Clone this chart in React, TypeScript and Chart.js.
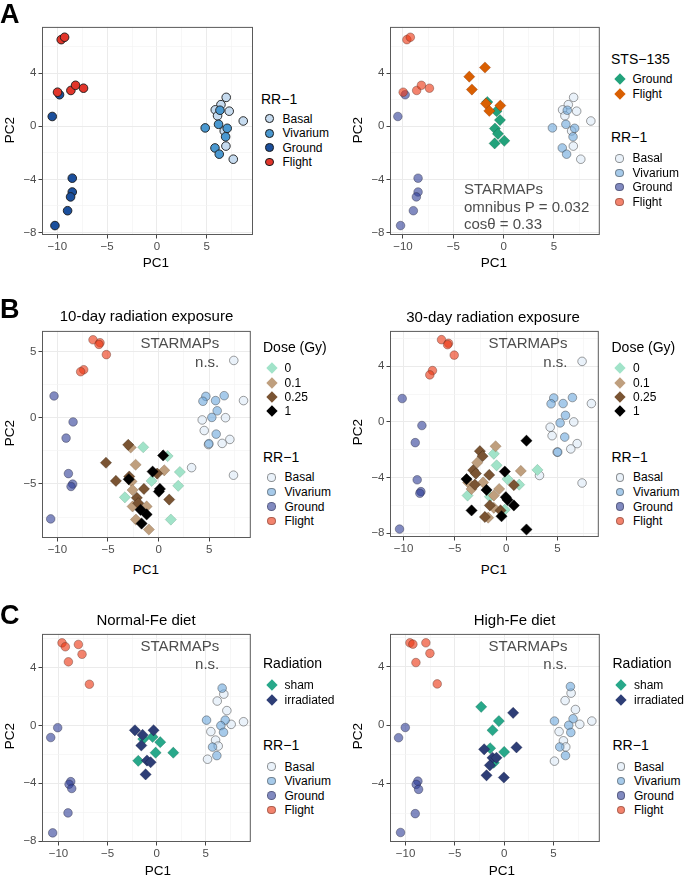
import React, { useEffect, useRef } from "react";
import { Chart, registerables } from "chart.js";
Chart.register(...registerables);

type Pt = [number, number];

// ---------------- Data ----------------
// Panel A (RR-1 PCA, shared by both A panels)
const aBasal: Pt[] = [[6.96, 2.18], [6.43, 1.63], [5.86, 1.24], [7.26, 1.14], [6.09, 0.79], [8.67, 0.4], [6.76, -0.35], [6.93, -1.49], [7.67, -2.48]];
const aVivarium: Pt[] = [[6.33, 1.21], [4.85, -0.12], [6.19, 0.15], [7.06, -0.15], [6.9, -0.79], [5.83, -1.63], [6.26, -2.1]];
const aGround: Pt[] = [[-9.78, 2.38], [-10.51, 0.74], [-8.5, -3.91], [-8.5, -4.95], [-8.67, -5.32], [-8.97, -6.36], [-10.24, -7.48]];
const aFlight: Pt[] = [[-9.61, 6.53], [-9.27, 6.71], [-9.98, 2.57], [-8.64, 2.7], [-8.17, 3.09], [-7.37, 2.87]];
const stsGround: Pt[] = [[-1.62, 1.83], [-0.7, 1.14], [-0.36, 0.47], [-0.86, -0.17], [-0.56, -0.57], [0.07, -1.09], [-0.89, -1.29]];
const stsFlight: Pt[] = [[-1.85, 4.43], [-3.41, 3.74], [-3.15, 2.77], [-1.75, 1.71], [-1.42, 1.16], [-0.33, 1.56]];

// Panel B left (10-day)
const b1Basal: Pt[] = [[7.43, 4.32], [8.39, 1.29], [4.31, -0.17], [4.51, -0.97], [6.61, 0.0], [7.04, -1.64], [6.28, -1.94], [4.93, -2.03], [3.26, -3.77], [7.4, -4.34]];
const b1Vivarium: Pt[] = [[4.67, 1.61], [4.38, 1.24], [5.63, 1.29], [6.48, 1.66], [5.79, 0.52], [5.26, 0.02], [5.69, -1.24], [4.97, -1.96]];
const b1Ground: Pt[] = [[-10.33, 1.64], [-8.45, -0.32], [-9.14, -1.54], [-8.91, -4.22], [-8.49, -5.01], [-8.65, -5.19], [-10.66, -7.64]];
const b1Flight: Pt[] = [[-6.48, 5.88], [-5.79, 5.66], [-5.89, 5.53], [-5.16, 4.76], [-7.4, 3.62], [-7.7, 3.47]];
const b1Dose0: Pt[] = [[-1.52, -2.23], [0.89, -2.9], [2.1, -4.1], [-0.69, -4.77], [1.94, -5.14], [-3.33, -6.01], [1.21, -7.69]];
const b1Dose01: Pt[] = [[-2.75, -2.25], [-2.27, -3.55], [0.56, -3.97], [-2.67, -4.81], [-2.57, -5.46], [-2.57, -6.7], [-1.18, -6.7], [-2.24, -7.69], [-0.96, -8.44]];
const b1Dose025: Pt[] = [[-3.0, -2.05], [-5.2, -3.4], [-4.22, -4.77], [-2.9, -4.44], [-0.14, -4.22], [-1.45, -5.38], [-2.15, -6.05], [-2.01, -6.45], [1.05, -6.18]];
const b1Dose1: Pt[] = [[0.45, -2.85], [-0.59, -4.07], [-2.95, -4.65], [0.13, -5.38], [0.03, -5.58], [-1.78, -6.95], [-1.18, -7.3], [-1.68, -7.99]];

// Panel B right (30-day)
const b2Basal: Pt[] = [[7.4, 4.35], [8.31, 1.32], [4.29, -0.38], [4.48, -0.99], [6.59, 0.0], [6.92, -1.56], [6.3, -1.94], [4.97, -2.17], [3.25, -3.85], [7.4, -4.39]];
const b2Vivarium: Pt[] = [[4.64, 1.72], [4.38, 1.3], [5.55, 1.32], [6.46, 1.75], [5.78, 0.47], [5.26, -0.07], [5.71, -1.09], [5.03, -2.17]];
const b2Ground: Pt[] = [[-10.13, 1.68], [-8.21, -0.26], [-8.86, -1.49], [-8.67, -4.16], [-8.31, -5.01], [-8.41, -5.13], [-10.39, -7.7]];
const b2Flight: Pt[] = [[-6.3, 5.91], [-5.62, 5.65], [-5.71, 5.55], [-5.06, 4.8], [-7.18, 3.69], [-7.44, 3.38]];
const b2Dose0: Pt[] = [[-1.2, -2.29], [-0.93, -3.12], [0.13, -4.11], [1.27, -4.51], [3.05, -3.45], [-3.76, -5.29], [-1.59, -5.37], [-0.13, -6.31]];
const b2Dose01: Pt[] = [[-1.03, -1.75], [-2.82, -2.93], [1.43, -3.52], [-3.7, -4.35], [-2.24, -4.35], [-0.68, -4.82], [-3.37, -4.82], [-1.2, -5.29], [-1.2, -6.17], [-1.75, -6.88]];
const b2Dose025: Pt[] = [[-2.56, -2.1], [-2.3, -2.46], [-3.21, -3.47], [-2.95, -3.71], [-1.65, -3.81], [0.75, -4.54], [-3.05, -4.51], [-1.59, -6.0], [-0.55, -6.36], [-2.07, -6.83]];
const b2Dose1: Pt[] = [[1.98, -1.35], [-0.13, -3.57], [-3.86, -4.11], [-1.91, -4.89], [-0.03, -5.41], [0.13, -5.6], [0.75, -6.0], [-3.37, -6.36], [-0.45, -6.78], [1.98, -7.73]];

// Panel C left (Normal-Fe)
const c1Basal: Pt[] = [[6.18, 1.68], [6.85, 2.16], [7.16, 1.02], [7.6, 0.07], [8.86, 0.25], [5.53, -0.43], [6.01, -1.02], [6.28, -1.43], [5.19, -2.34]];
const c1Vivarium: Pt[] = [[6.68, 2.57], [5.09, 0.36], [6.99, 0.36], [6.55, -0.02], [6.82, -0.48], [5.7, -1.5], [6.14, -2.09]];
const c1Ground: Pt[] = [[-10.08, -0.16], [-10.79, -0.84], [-8.75, -3.89], [-8.92, -4.07], [-8.65, -4.36], [-9.03, -6.05], [-10.59, -7.43]];
const c1Flight: Pt[] = [[-9.64, 5.7], [-9.3, 5.43], [-7.97, 5.59], [-7.6, 4.91], [-8.99, 4.39], [-6.85, 2.84]];
const c1Sham: Pt[] = [[-1.36, -0.95], [-0.41, -0.8], [0.37, -1.16], [-0.1, -1.89], [1.7, -1.89], [-1.87, -2.45]];
const c1Irradiated: Pt[] = [[-2.21, -0.34], [-1.43, -0.66], [-0.31, -0.34], [-1.56, -1.39], [-0.98, -2.43], [-0.61, -2.55], [-1.12, -3.39]];

// Panel C right (High-Fe)
const c2Basal: Pt[] = [[6.18, 1.69], [6.79, 2.2], [7.23, 1.08], [7.67, 0.07], [8.89, 0.29], [5.57, -0.43], [6.01, -1.06], [6.25, -1.48], [5.1, -2.45]];
const c2Vivarium: Pt[] = [[6.72, 2.65], [5.1, 0.29], [6.99, 0.45], [6.55, 0.0], [6.76, -0.49], [5.64, -1.48], [6.22, -2.07]];
const c2Ground: Pt[] = [[-10.03, -0.15], [-10.71, -0.85], [-8.75, -3.82], [-8.92, -4.04], [-8.68, -4.38], [-9.02, -6.04], [-10.51, -7.33]];
const c2Flight: Pt[] = [[-9.56, 5.64], [-9.26, 5.55], [-7.94, 5.64], [-7.53, 4.92], [-8.95, 4.29], [-6.79, 2.83]];
const c2Sham: Pt[] = [[-2.33, 1.26], [-0.54, 0.29], [-1.18, -0.34], [-1.42, -1.57], [0.0, -1.82], [-1.05, -2.56]];
const c2Irradiated: Pt[] = [[0.91, 0.85], [1.25, -1.51], [-2.03, -1.64], [-1.18, -2.22], [-0.78, -2.22], [-1.45, -2.74], [-1.79, -3.42], [-0.03, -3.57]];

// Tick labels
const xMajor = [-10, -5, 0, 5];
const xMinor = [-7.5, -2.5, 2.5, 7.5];
const yMajor4 = [-8, -4, 0, 4];
const yMinor4 = [-6, -2, 2, 6];
const yMajor5 = [-5, 0, 5];
const yMinor5 = [-7.5, -2.5, 2.5];

const rr1Labels = ["Basal", "Vivarium", "Ground", "Flight"];
const stsLabels = ["Ground", "Flight"];
const doseLabels = ["0", "0.1", "0.25", "1"];
const radLabels = ["sham", "irradiated"];

// ---------------- Styles ----------------
const FONT = '"Liberation Sans", Arial, Helvetica, sans-serif';

type Sty = { fill: string; stroke: string; shape: "circle" | "rectRot"; r: number; bw: number };
const circ = (fill: string, stroke: string): Sty => ({ fill, stroke, shape: "circle", r: 4.3, bw: 0.9 });
const diam = (fill: string, stroke: string): Sty => ({ fill, stroke, shape: "rectRot", r: 5.6, bw: 0.6 });

const rrStrong: Sty[] = [
  circ("#C6DBEF", "#1a1a1a"),
  circ("#4A98D0", "#1a1a1a"),
  circ("#1B4F9C", "#1a1a1a"),
  circ("#E2352A", "#1a1a1a"),
];
const rrFaded: Sty[] = [
  circ("rgba(222,235,247,0.65)", "rgba(60,60,60,0.55)"),
  circ("rgba(107,166,220,0.6)", "rgba(60,60,60,0.5)"),
  circ("rgba(45,60,150,0.6)", "rgba(40,40,60,0.45)"),
  circ("rgba(235,55,20,0.62)", "rgba(90,50,40,0.45)"),
];
const stsSty: Sty[] = [diam("#22A27B", "rgba(0,80,50,0.5)"), diam("#D95F02", "rgba(120,40,0,0.5)")];
const doseSty: Sty[] = [
  diam("#A1E3C9", "rgba(90,150,120,0.5)"),
  diam("#BF9F7E", "rgba(110,80,50,0.5)"),
  diam("#7A5433", "rgba(50,30,10,0.6)"),
  diam("#000000", "rgba(0,0,0,0.8)"),
];
const radSty: Sty[] = [diam("#28A88A", "rgba(10,90,70,0.5)"), diam("#2E3E76", "rgba(10,20,60,0.6)")];

type Series = { data: Pt[]; sty: Sty };
type PanelSpec = {
  box: [number, number, number, number]; // left, right, top, bottom (page px)
  xr: [number, number];
  yr: [number, number];
  yMaj: number[];
  yMin: number[];
  series: Series[];
};

const zip = (arrs: Pt[][], sty: Sty[]): Series[] => arrs.map((d, i) => ({ data: d, sty: sty[i] }));

const panels: PanelSpec[] = [
  {
    box: [42, 253, 24, 235], xr: [-11.54, 9.65], yr: [-8.19, 7.49], yMaj: yMajor4, yMin: yMinor4,
    series: zip([aBasal, aVivarium, aGround, aFlight], rrStrong),
  },
  {
    box: [390, 600, 24, 235], xr: [-11.29, 9.56], yr: [-8.19, 7.49], yMaj: yMajor4, yMin: yMinor4,
    series: [...zip([aBasal, aVivarium, aGround, aFlight], rrFaded), ...zip([stsGround, stsFlight], stsSty)],
  },
  {
    box: [42, 251, 328, 538], xr: [-11.52, 9.11], yr: [-9.08, 6.55], yMaj: yMajor5, yMin: yMinor5,
    series: [...zip([b1Basal, b1Vivarium, b1Ground, b1Flight], rrFaded), ...zip([b1Dose0, b1Dose01, b1Dose025, b1Dose1], doseSty)],
  },
  {
    box: [390, 599, 328, 537], xr: [-11.32, 9.03], yr: [-8.27, 6.54], yMaj: yMajor4, yMin: yMinor4,
    series: [...zip([b2Basal, b2Vivarium, b2Ground, b2Flight], rrFaded), ...zip([b2Dose0, b2Dose01, b2Dose025, b2Dose1], doseSty)],
  },
  {
    box: [42, 251, 631, 842], xr: [-11.68, 9.6], yr: [-8.06, 6.32], yMaj: yMajor4, yMin: yMinor4,
    series: [...zip([c1Basal, c1Vivarium, c1Ground, c1Flight], rrFaded), ...zip([c1Sham, c1Irradiated], radSty)],
  },
  {
    box: [390, 600, 631, 842], xr: [-11.58, 9.7], yr: [-7.98, 6.25], yMaj: yMajor4.filter((v) => v > -7.98), yMin: yMinor4,
    series: [...zip([c2Basal, c2Vivarium, c2Ground, c2Flight], rrFaded), ...zip([c2Sham, c2Irradiated], radSty)],
  },
];

const fmt = (v: number) => (v < 0 ? "\u2212" + Math.abs(v) : String(v));

const borderPlugin = {
  id: "panelBorder",
  afterDraw(chart: any) {
    const { ctx, chartArea } = chart;
    const { left, top, right, bottom } = chartArea;
    ctx.save();
    ctx.strokeStyle = "#5a5a5a";
    ctx.lineWidth = 1;
    ctx.strokeRect(left + 0.5, top + 0.5, right - left - 1, bottom - top - 1);
    ctx.restore();
  },
};

const PAD_L = 40, PAD_T = 6, PAD_R = 6, PAD_B = 22;

function axisOpts(min: number, max: number, maj: number[], mnr: number[], isX: boolean) {
  const all = [...maj, ...mnr].filter((v) => v > min && v < max).sort((a, b) => a - b);
  const isMaj = (v: number) => maj.includes(v);
  return {
    type: "linear",
    min,
    max,
    afterBuildTicks: (sc: any) => {
      sc.ticks = all.map((v) => ({ value: v }));
    },
    afterFit: (sc: any) => {
      if (isX) sc.height = PAD_B;
      else sc.width = PAD_L;
    },
    ticks: {
      autoSkip: false,
      maxRotation: 0,
      minRotation: 0,
      padding: isX ? 1 : 2,
      color: "#4D4D4D",
      font: { family: FONT, size: 11.5 },
      callback: (v: number) => (isMaj(v) ? fmt(v) : ""),
    },
    grid: {
      color: (c: any) => (c.tick && isMaj(c.tick.value) ? "#EBEBEB" : "#F4F4F4"),
      lineWidth: (c: any) => (c.tick && isMaj(c.tick.value) ? 1 : 0.7),
      tickColor: (c: any) => (c.tick && isMaj(c.tick.value) ? "#444444" : "rgba(0,0,0,0)"),
      tickLength: 3.5,
      drawOnChartArea: true,
      drawTicks: true,
    },
    border: { display: false },
  };
}

function Panel({ spec }: { spec: PanelSpec }) {
  const ref = useRef<HTMLCanvasElement>(null);
  const [L, R, T, B] = spec.box;
  const w = R - L + PAD_L + PAD_R;
  const h = B - T + PAD_T + PAD_B;
  useEffect(() => {
    const n = spec.series.length;
    const chart = new Chart(ref.current!, {
      type: "scatter",
      data: {
        datasets: spec.series.map((s, i) => ({
          data: s.data.map(([x, y]) => ({ x, y })),
          pointStyle: s.sty.shape,
          pointRadius: s.sty.r,
          pointBackgroundColor: s.sty.fill,
          pointBorderColor: s.sty.stroke,
          pointBorderWidth: s.sty.bw,
          showLine: false,
          order: n - i,
        })),
      },
      options: {
        animation: false,
        responsive: false,
        devicePixelRatio: 1,
        events: [],
        layout: { padding: { left: 0, top: PAD_T, right: PAD_R, bottom: 0 } },
        plugins: { legend: { display: false }, tooltip: { enabled: false } },
        scales: {
          x: axisOpts(spec.xr[0], spec.xr[1], xMajor, xMinor, true) as any,
          y: axisOpts(spec.yr[0], spec.yr[1], spec.yMaj, spec.yMin, false) as any,
        },
      },
      plugins: [borderPlugin],
    });
    return () => chart.destroy();
  }, []);
  return (
    <canvas
      ref={ref}
      width={w}
      height={h}
      style={{ position: "absolute", left: L - PAD_L, top: T - PAD_T, width: w, height: h }}
    />
  );
}

type TxtProps = {
  x: number; y: number; size: number; children: React.ReactNode;
  align?: "left" | "center" | "right"; weight?: number; color?: string; rotate?: boolean;
};
function Txt({ x, y, size, children, align = "left", weight = 400, color = "#000", rotate = false }: TxtProps) {
  const tx = align === "left" ? "0" : align === "center" ? "-50%" : "-100%";
  return (
    <div
      style={{
        position: "absolute",
        left: x,
        top: y,
        transform: rotate ? "translate(-50%,-50%) rotate(-90deg)" : `translate(${tx},-50%)`,
        fontSize: size,
        lineHeight: `${size}px`,
        whiteSpace: "nowrap",
        fontFamily: FONT,
        fontWeight: weight,
        color,
      }}
    >
      {children}
    </div>
  );
}

function Marker({ x, y, sty }: { x: number; y: number; sty: Sty }) {
  if (sty.shape === "circle") {
    const d = sty.r * 2;
    return (
      <div
        style={{
          position: "absolute", left: x - d / 2, top: y - d / 2, width: d, height: d, boxSizing: "border-box",
          borderRadius: "50%", background: sty.fill, border: `${sty.bw}px solid ${sty.stroke}`,
        }}
      />
    );
  }
  const s = sty.r * Math.SQRT2;
  return (
    <div
      style={{
        position: "absolute", left: x - s / 2, top: y - s / 2, width: s, height: s,
        background: sty.fill, transform: "rotate(45deg)",
      }}
    />
  );
}

type LegSection = { title: string; ty: number; labels: string[]; ys: number[]; sty: Sty[] };
function Legend({ x, sections }: { x: number; sections: LegSection[] }) {
  return (
    <>
      {sections.map((s, si) => (
        <React.Fragment key={si}>
          <Txt x={x} y={s.ty} size={14}>{s.title}</Txt>
          {s.labels.map((lab, i) => (
            <React.Fragment key={i}>
              <Marker x={x + 8.5} y={s.ys[i]} sty={s.sty[i]} />
              <Txt x={x + 21.5} y={s.ys[i]} size={12}>{lab}</Txt>
            </React.Fragment>
          ))}
        </React.Fragment>
      ))}
    </>
  );
}

const rrYsTop = [158.3, 172.8, 187.2, 201.8];
const rrYsB = [477.3, 492, 506.5, 520.8];
const rrYsC = [766.7, 781, 795.7, 810];
const doseYs = [368.3, 382.7, 396.9, 411.3];
const radYs = [685.3, 700];

export default function App() {
  const grey = "#4D4D4D";
  return (
    <div style={{ position: "absolute", left: 0, top: 0, width: 685, height: 877, background: "#fff", overflow: "hidden" }}>
      {panels.map((p, i) => (
        <Panel key={i} spec={p} />
      ))}

      {/* Panel letters */}
      <Txt x={0} y={14} size={27} weight={700}>A</Txt>
      <Txt x={0} y={309} size={27} weight={700}>B</Txt>
      <Txt x={0} y={615} size={27} weight={700}>C</Txt>

      {/* Titles */}
      <Txt x={146.5} y={315} size={15} align="center">10-day radiation exposure</Txt>
      <Txt x={493} y={316} size={15} align="center">30-day radiation exposure</Txt>
      <Txt x={146} y={619} size={15} align="center">Normal-Fe diet</Txt>
      <Txt x={514.5} y={619} size={15} align="center">High-Fe diet</Txt>

      {/* Axis titles */}
      <Txt x={156} y={263} size={13.5} align="center">PC1</Txt>
      <Txt x={494} y={263} size={13.5} align="center">PC1</Txt>
      <Txt x={146} y={570} size={13.5} align="center">PC1</Txt>
      <Txt x={494} y={570} size={13.5} align="center">PC1</Txt>
      <Txt x={158} y={871} size={13.5} align="center">PC1</Txt>
      <Txt x={502} y={871} size={13.5} align="center">PC1</Txt>
      <Txt x={10} y={130} size={13.5} rotate>PC2</Txt>
      <Txt x={358} y={130} size={13.5} rotate>PC2</Txt>
      <Txt x={10} y={433} size={13.5} rotate>PC2</Txt>
      <Txt x={358} y={432} size={13.5} rotate>PC2</Txt>
      <Txt x={10} y={736} size={13.5} rotate>PC2</Txt>
      <Txt x={358} y={736} size={13.5} rotate>PC2</Txt>

      {/* Annotations */}
      <Txt x={464} y={188} size={15} color={grey}>STARMAPs</Txt>
      <Txt x={464} y={205.5} size={15} color={grey}>omnibus P = 0.032</Txt>
      <Txt x={464} y={223} size={15} color={grey}>cosθ = 0.33</Txt>
      <Txt x={219.3} y={341.7} size={15} color={grey} align="right">STARMAPs</Txt>
      <Txt x={219.3} y={361} size={15} color={grey} align="right">n.s.</Txt>
      <Txt x={567.5} y={341.7} size={15} color={grey} align="right">STARMAPs</Txt>
      <Txt x={567.5} y={361} size={15} color={grey} align="right">n.s.</Txt>
      <Txt x={219.3} y={645} size={15} color={grey} align="right">STARMAPs</Txt>
      <Txt x={219.3} y={663.3} size={15} color={grey} align="right">n.s.</Txt>
      <Txt x={567.5} y={645} size={15} color={grey} align="right">STARMAPs</Txt>
      <Txt x={567.5} y={663.3} size={15} color={grey} align="right">n.s.</Txt>

      {/* Legends */}
      <Legend x={261} sections={[{ title: "RR\u22121", ty: 99.3, labels: rr1Labels, ys: [118.7, 133.3, 147.7, 162.2], sty: rrStrong }]} />
      <Legend
        x={611}
        sections={[
          { title: "STS\u2212135", ty: 58.5, labels: stsLabels, ys: [79.3, 93.7], sty: stsSty },
          { title: "RR\u22121", ty: 137, labels: rr1Labels, ys: rrYsTop, sty: rrFaded },
        ]}
      />
      <Legend
        x={263}
        sections={[
          { title: "Dose (Gy)", ty: 346.7, labels: doseLabels, ys: doseYs, sty: doseSty },
          { title: "RR\u22121", ty: 456.7, labels: rr1Labels, ys: rrYsB, sty: rrFaded },
        ]}
      />
      <Legend
        x={611.5}
        sections={[
          { title: "Dose (Gy)", ty: 346.7, labels: doseLabels, ys: doseYs, sty: doseSty },
          { title: "RR\u22121", ty: 456.7, labels: rr1Labels, ys: rrYsB, sty: rrFaded },
        ]}
      />
      <Legend
        x={263}
        sections={[
          { title: "Radiation", ty: 663.3, labels: radLabels, ys: radYs, sty: radSty },
          { title: "RR\u22121", ty: 745, labels: rr1Labels, ys: rrYsC, sty: rrFaded },
        ]}
      />
      <Legend
        x={612.5}
        sections={[
          { title: "Radiation", ty: 663.3, labels: radLabels, ys: radYs, sty: radSty },
          { title: "RR\u22121", ty: 745, labels: rr1Labels, ys: rrYsC, sty: rrFaded },
        ]}
      />
    </div>
  );
}
